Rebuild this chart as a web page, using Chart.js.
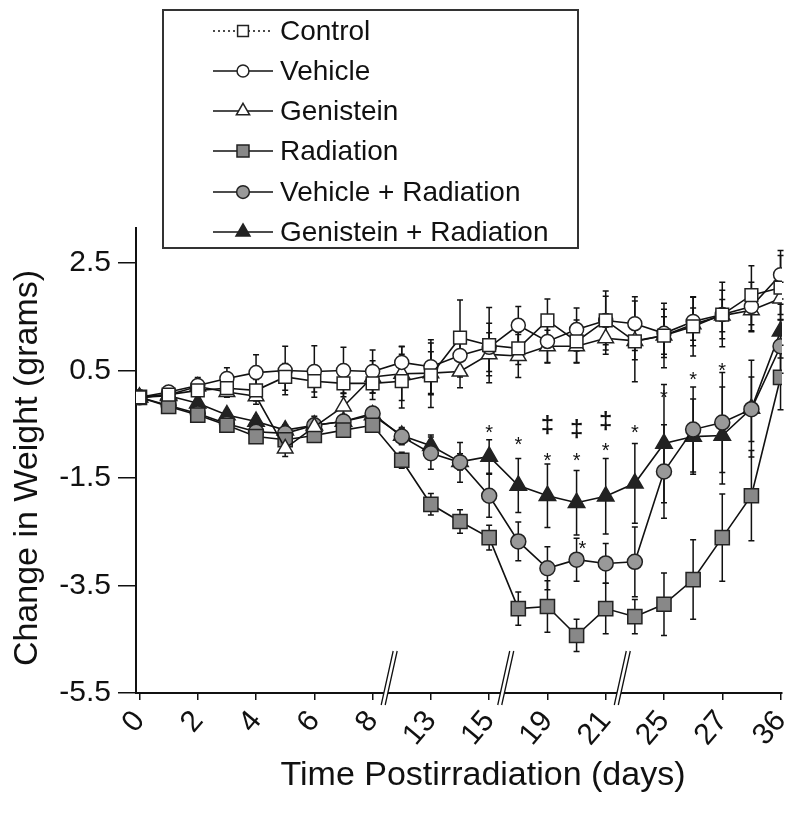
<!DOCTYPE html>
<html>
<head>
<meta charset="utf-8">
<script src="https://cdn.jsdelivr.net/npm/chart.js@4"></script>
<style>
  html, body { margin: 0; padding: 0; background: #fff; }
  #chart { display: block; }
</style>
</head>
<body>
<canvas id="chart" width="800" height="829"></canvas>
<script>
// x positions (one per measurement), labelled ticks and their text
const points = [0, 1, 2, 3, 4, 5, 6, 7, 8, 9, 10, 11, 12, 13, 14, 15, 16, 17, 18, 19, 20, 21, 22];
const tickIdx = [0, 2, 4, 6, 8, 10, 12, 14, 16, 18, 20, 22];
const tickLabels = ['0', '2', '4', '6', '8', '13', '15', '19', '21', '25', '27', '36'];
const yTicks = [-5.5, -3.5, -1.5, 0.5, 2.5];
const breakAt = [8.5, 12.5, 16.5];

const seriesNames = ['Control', 'Vehicle', 'Genistein', 'Radiation', 'Vehicle + Radiation', 'Genistein + Radiation'];

// mean change in weight (g)
const control   = [0, 0.05, 0.13, 0.17, 0.13, 0.38, 0.3, 0.26, 0.26, 0.3, 0.41, 1.11, 0.97, 0.91, 1.43, 1.04, 1.43, 1.04, 1.15, 1.32, 1.54, 1.9, 2.04];
const vehicle   = [0, 0.1, 0.22, 0.35, 0.46, 0.5, 0.48, 0.5, 0.48, 0.65, 0.57, 0.78, 0.93, 1.34, 1.04, 1.26, 1.43, 1.37, 1.19, 1.41, 1.54, 1.69, 2.28];
const genistein = [0, 0.05, 0.2, 0.1, 0.02, -0.95, -0.55, -0.17, 0.38, 0.44, 0.45, 0.48, 0.8, 0.77, 0.95, 0.95, 1.1, 1.05, 1.15, 1.36, 1.52, 1.62, 1.84];
const radiation = [0, -0.17, -0.33, -0.52, -0.73, -0.79, -0.71, -0.61, -0.52, -1.17, -1.99, -2.31, -2.61, -3.93, -3.89, -4.43, -3.93, -4.08, -3.85, -3.39, -2.61, -1.83, 0.37];
const vehRad    = [0, -0.15, -0.3, -0.49, -0.64, -0.67, -0.52, -0.45, -0.3, -0.73, -1.04, -1.21, -1.83, -2.68, -3.18, -3.02, -3.09, -3.06, -1.38, -0.6, -0.47, -0.22, 0.95];
const genRad    = [0, 0.03, -0.11, -0.33, -0.45, -0.61, -0.52, -0.45, -0.33, -0.71, -0.9, -1.2, -1.1, -1.64, -1.83, -1.96, -1.84, -1.6, -0.86, -0.73, -0.71, -0.21, 1.23];

// error bar half-lengths (g)
const controlErr   = [0.05, 0.1, 0.1, 0.15, 0.2, 0.25, 0.2, 0.25, 0.3, 0.5, 0.6, 0.7, 0.7, 0.3, 0.4, 0.4, 0.55, 0.75, 0.6, 0.55, 0.6, 0.55, 0.6];
const vehicleErr   = [0.05, 0.1, 0.15, 0.2, 0.33, 0.45, 0.48, 0.43, 0.4, 0.3, 0.5, 0.4, 0.45, 0.35, 0.4, 0.4, 0.45, 0.5, 0.45, 0.45, 0.45, 0.45, 0.45];
const genisteinErr = [0.05, 0.1, 0.1, 0.1, 0.15, 0.15, 0.2, 0.25, 0.3, 0.5, 0.4, 0.3, 0.4, 0.4, 0.3, 0.3, 0.3, 0.35, 0.35, 0.3, 0.3, 0.4, 0.3];
const radiationErr = [0.05, 0.05, 0.1, 0.1, 0.1, 0.1, 0.1, 0.1, 0.1, 0.15, 0.2, 0.22, 0.23, 0.31, 0.48, 0.3, 0.47, 0.32, 0.58, 0.74, 0.81, 0.84, 0.6];
const vehRadErr    = [0.05, 0.05, 0.1, 0.1, 0.1, 0.1, 0.1, 0.1, 0.1, 0.15, 0.3, 0.37, 0.4, 0.36, 0.4, 0.4, 0.37, 0.65, 0.87, 0.79, 0.93, 0.6, 0.5];
const genRadErr    = [0.05, 0.05, 0.1, 0.1, 0.1, 0.1, 0.1, 0.1, 0.1, 0.15, 0.2, 0.15, 0.31, 0.5, 0.59, 0.6, 0.7, 0.74, 1.1, 0.7, 0.9, 0.9, 0.5];

// significance marks
const annoIdx = [12, 13, 14, 14, 15, 15, 16, 16, 17, 18, 19, 20, 15.2];
const annoVal = [-0.6, -0.82, -0.54, -1.12, -0.62, -1.12, -0.47, -0.93, -0.6, 0.05, 0.39, 0.56, -2.76];
const annoSym = ['*', '*', '‡', '*', '‡', '*', '‡', '*', '*', '*', '*', '*', '*'];

const values = [control, vehicle, genistein, radiation, vehRad, genRad];
const errors = [controlErr, vehicleErr, genisteinErr, radiationErr, vehRadErr, genRadErr];

const styles = [
  { pointStyle: 'rect', radius: 9, fill: '#fff', dash: [2, 3] },
  { pointStyle: 'circle', radius: 7, fill: '#fff', dash: [] },
  { pointStyle: 'triangle', radius: 9, fill: '#fff', dash: [] },
  { pointStyle: 'rect', radius: 10, fill: '#888', dash: [] },
  { pointStyle: 'circle', radius: 7.5, fill: '#999', dash: [] },
  { pointStyle: 'triangle', radius: 9.5, fill: '#222', dash: [] }
];

const FONT = '"Liberation Sans", Arial, sans-serif';

const datasets = values.map((vals, d) => ({
  label: seriesNames[d],
  data: vals.map((v, i) => ({ x: points[i], y: v })),
  borderColor: '#111',
  borderWidth: 1.6,
  tension: 0,
  fill: false,
  pointStyle: styles[d].pointStyle,
  pointRadius: styles[d].radius,
  pointBackgroundColor: styles[d].fill,
  pointBorderColor: '#222',
  pointBorderWidth: 1.5
}));

const overlay = {
  id: 'overlay',
  beforeDatasetsDraw(chart) {
    const { ctx, scales: { x, y } } = chart;
    ctx.save();
    ctx.strokeStyle = '#111';
    ctx.lineWidth = 1.5;
    errors.forEach((errs, d) => {
      errs.forEach((e, i) => {
        const px = x.getPixelForValue(points[i]);
        const top = y.getPixelForValue(values[d][i] + e);
        const bot = y.getPixelForValue(values[d][i] - e);
        ctx.beginPath();
        ctx.moveTo(px, top); ctx.lineTo(px, bot);
        ctx.moveTo(px - 3, top); ctx.lineTo(px + 3, top);
        ctx.moveTo(px - 3, bot); ctx.lineTo(px + 3, bot);
        ctx.stroke();
      });
    });
    ctx.restore();
  },
  afterDraw(chart) {
    const { ctx, chartArea, scales: { x, y } } = chart;
    ctx.save();

    // axis breaks
    breakAt.forEach(b => {
      const px = x.getPixelForValue(b);
      const yb = chartArea.bottom;
      ctx.fillStyle = '#fff';
      ctx.beginPath();
      ctx.moveTo(px + 6, yb - 42); ctx.lineTo(px + 10, yb - 42);
      ctx.lineTo(px - 2, yb + 12); ctx.lineTo(px - 6, yb + 12);
      ctx.closePath();
      ctx.fill();
      ctx.strokeStyle = '#111';
      ctx.lineWidth = 1.3;
      ctx.beginPath();
      ctx.moveTo(px + 6, yb - 42); ctx.lineTo(px - 6, yb + 12);
      ctx.moveTo(px + 10, yb - 42); ctx.lineTo(px - 2, yb + 12);
      ctx.stroke();
    });

    // significance marks
    ctx.fillStyle = '#111';
    ctx.textAlign = 'center';
    ctx.textBaseline = 'middle';
    annoSym.forEach((s, k) => {
      const px = x.getPixelForValue(annoIdx[k]);
      const py = y.getPixelForValue(annoVal[k]);
      if (s === '*') {
        ctx.font = '20px ' + FONT;
        ctx.fillText(s, px, py + 4);
      } else {
        ctx.font = 'bold 24px ' + FONT;
        ctx.fillText(s, px, py);
      }
    });

    // axis titles
    ctx.font = '34px ' + FONT;
    ctx.fillText('Time Postirradiation (days)', 483, 776);
    ctx.save();
    ctx.translate(28, 468);
    ctx.rotate(-Math.PI / 2);
    ctx.fillText('Change in Weight (grams)', 0, 0);
    ctx.restore();

    // legend box
    ctx.strokeStyle = '#333';
    ctx.lineWidth = 2;
    ctx.strokeRect(163, 10, 415, 238);
    const rowsY = [31, 71, 111, 151, 192, 232];
    seriesNames.forEach((name, d) => {
      const ly = rowsY[d];
      ctx.strokeStyle = '#111';
      ctx.lineWidth = 1.6;
      ctx.setLineDash(styles[d].dash);
      ctx.beginPath();
      ctx.moveTo(213, ly); ctx.lineTo(273, ly);
      ctx.stroke();
      ctx.setLineDash([]);
      ctx.fillStyle = styles[d].fill;
      ctx.strokeStyle = '#222';
      ctx.lineWidth = 1.5;
      Chart.helpers.drawPoint(ctx, {
        pointStyle: styles[d].pointStyle,
        radius: styles[d].radius * 0.85,
        rotation: 0,
        borderWidth: 1.5
      }, 243, ly);
      ctx.fillStyle = '#111';
      ctx.textAlign = 'left';
      ctx.font = '28px ' + FONT;
      ctx.fillText(name, 280, ly + 1);
    });
    ctx.restore();
  }
};

new Chart(document.getElementById('chart'), {
  type: 'line',
  data: { datasets },
  plugins: [overlay],
  options: {
    responsive: false,
    animation: false,
    layout: { padding: { top: 228, right: 18, left: 0, bottom: 0 } },
    plugins: { legend: { display: false }, tooltip: { enabled: false } },
    scales: {
      x: {
        type: 'linear',
        min: -0.12,
        max: 22.05,
        afterBuildTicks: s => { s.ticks = tickIdx.map(v => ({ value: v })); },
        afterFit: s => { s.height = 136; s.paddingLeft = 0; s.paddingRight = 0; },
        ticks: {
          autoSkip: false,
          minRotation: 50,
          maxRotation: 50,
          padding: 4,
          color: '#111',
          font: { family: FONT, size: 30 },
          callback: (v, i) => tickLabels[i]
        },
        grid: { drawOnChartArea: false, tickLength: 7, color: '#111', lineWidth: 1.5 },
        border: { color: '#111', width: 2 }
      },
      y: {
        type: 'linear',
        min: -5.5,
        max: 3.15,
        afterBuildTicks: s => { s.ticks = yTicks.map(v => ({ value: v })); },
        afterFit: s => { s.width = 136; },
        ticks: {
          padding: 7,
          color: '#111',
          font: { family: FONT, size: 30 },
          callback: v => v.toFixed(1)
        },
        grid: { drawOnChartArea: false, tickLength: 18, color: '#111', lineWidth: 1.5 },
        border: { color: '#111', width: 2 }
      }
    }
  }
});
</script>
</body>
</html>
